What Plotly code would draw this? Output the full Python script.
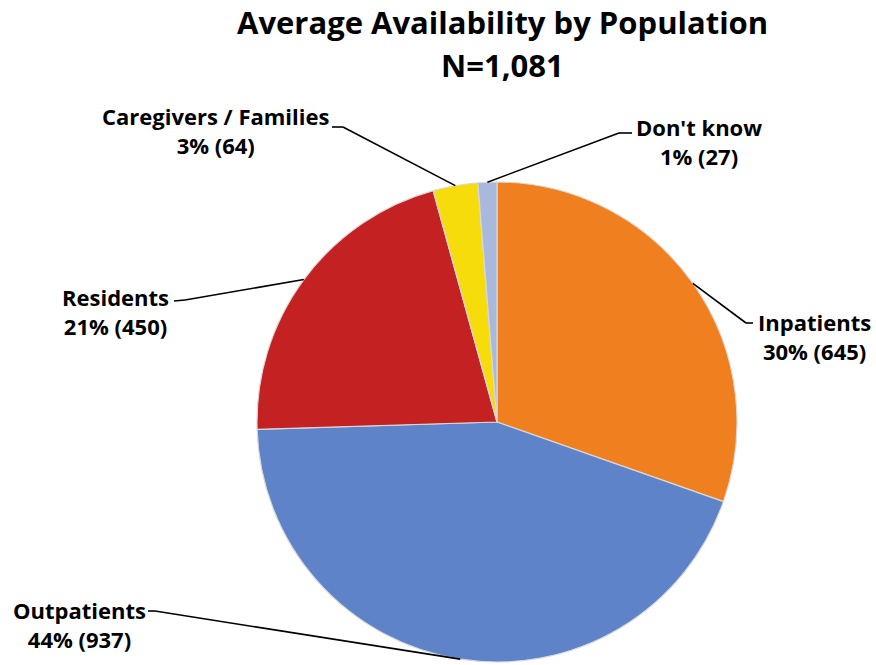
import math
import plotly.graph_objects as go

# ---- data ----
categories = ["Inpatients", "Outpatients", "Residents", "Caregivers / Families", "Don't know"]
counts = [645, 937, 450, 64, 27]
percent_labels = ["30%", "44%", "21%", "3%", "1%"]
title_lines = ["Average Availability by Population", "N=1,081"]

# ---- styles / layout ----
W, H = 876, 665
colors = ["#F0801F", "#5F83C8", "#C42222", "#F7DC0C", "#A9B9DE"]
FONT = "Open Sans"
CX, CY, R = 497, 422, 240  # pie centre & radius in px

# label anchor (px): elbow end of the leader line, text position
label_pos = {
    "Inpatients":            dict(elbow=(746, 323), end=(753, 323), tx=814, ty=336),
    "Outpatients":           dict(elbow=(155, 611), end=(148, 611), tx=79, ty=624),
    "Residents":             dict(elbow=(185, 300), end=(174, 301), tx=115, ty=311),
    "Caregivers / Families": dict(elbow=(343, 127), end=(332, 127), tx=215, ty=130),
    "Don't know":            dict(elbow=(619, 133), end=(632, 133), tx=699, ty=142),
}
title_y = [21.5, 64.5]


def px(x, y):
    return x / W, 1 - y / H


fig = go.Figure(go.Pie(
    labels=categories, values=counts, sort=False, direction="clockwise", rotation=0,
    marker=dict(colors=colors, line=dict(color="#d8d8d8", width=1.2)),
    textinfo="none", hoverinfo="label+value+percent",
    domain=dict(x=[(CX - R) / W, (CX + R) / W], y=[(H - CY - R) / H, (H - CY + R) / H]),
    showlegend=False,
))

total = sum(counts)
cum = 0
shapes, annotations = [], []
for cat, val, pct in zip(categories, counts, percent_labels):
    mid = (cum + val / 2) / total * 2 * math.pi
    cum += val
    ex, ey = CX + R * math.sin(mid), CY - R * math.cos(mid)
    p = label_pos[cat]
    pts = [(ex, ey), p["elbow"], p["end"]]
    for (x0, y0), (x1, y1) in zip(pts[:-1], pts[1:]):
        a0, b0 = px(x0, y0)
        a1, b1 = px(x1, y1)
        shapes.append(dict(type="line", xref="paper", yref="paper", x0=a0, y0=b0, x1=a1, y1=b1,
                           line=dict(color="black", width=1.6)))
    tx, ty = px(p["tx"], p["ty"])
    annotations.append(dict(text=f"<b>{cat}</b><br><b>{pct} ({val})</b>", x=tx, y=ty,
                            xref="paper", yref="paper", showarrow=False, align="center",
                            xanchor="center", yanchor="middle",
                            font=dict(family=FONT, size=22, color="black")))

for line, yy in zip(title_lines, title_y):
    tx, ty = px(502, yy)
    annotations.append(dict(text=f"<b>{line}</b>", x=tx, y=ty,
                            xref="paper", yref="paper", showarrow=False, align="center",
                            xanchor="center", yanchor="middle",
                            font=dict(family=FONT, size=31, color="black")))

fig.update_layout(width=W, height=H, margin=dict(l=0, r=0, t=0, b=0),
                  paper_bgcolor="white", plot_bgcolor="white",
                  shapes=shapes, annotations=annotations)
fig.write_html("out.html")
